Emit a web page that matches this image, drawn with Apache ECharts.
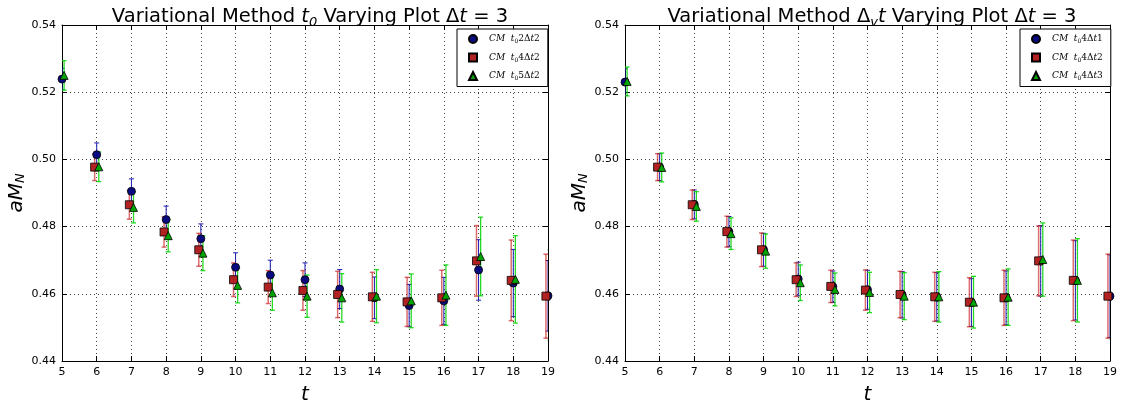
<!DOCTYPE html>
<html><head><meta charset="utf-8">
<script src="https://cdn.jsdelivr.net/npm/echarts@6/dist/echarts.min.js"></script>
<style>html,body{margin:0;padding:0;background:#fff}#c{width:1122px;height:410px}</style>
</head><body><div id="c"></div>
<script>
const tVals = [5,6,7,8,9,10,11,12,13,14,15,16,17,18,19];
const xTicks = {min:5, max:19, interval:1};
const yTicks = {min:0.44, max:0.54, interval:0.02};

// Left panel: t0 varying
const blueL    = [0.5239,0.5014,0.4905,0.4821,0.4764,0.4679,0.4656,0.4642,0.4614,0.4588,0.4565,0.4579,0.4671,0.4632,0.4594];
const blueLErr = [0.0032,0.0035,0.0037,0.0040,0.0044,0.0043,0.0044,0.0050,0.0058,0.0062,0.0063,0.0070,0.0090,0.0100,0.0105];
const redL     = [0.5235,0.4977,0.4865,0.4784,0.4731,0.4642,0.4620,0.4610,0.4598,0.4591,0.4576,0.4588,0.4698,0.4640,0.4593];
const redLErr  = [0.0050,0.0040,0.0043,0.0045,0.0049,0.0050,0.0049,0.0059,0.0069,0.0073,0.0073,0.0082,0.0105,0.0120,0.0125];
const greenL   = [0.5250,0.4978,0.4857,0.4773,0.4721,0.4625,0.4603,0.4593,0.4588,0.4593,0.4579,0.4596,0.4711,0.4643,0.4596];
const greenLErr= [0.0044,0.0044,0.0046,0.0048,0.0052,0.0052,0.0052,0.0063,0.0072,0.0079,0.0080,0.0090,0.0117,0.0130,0.0135];

// Right panel: Delta_v t varying
const blueR    = [0.5230,0.4977,0.4866,0.4785,0.4731,0.4644,0.4621,0.4612,0.4597,0.4591,0.4574,0.4588,0.4698,0.4640,0.4593];
const blueRErr = [0.0040,0.0040,0.0043,0.0045,0.0049,0.0050,0.0047,0.0058,0.0069,0.0072,0.0071,0.0080,0.0105,0.0118,0.0123];
const redR     = [0.5232,0.4977,0.4865,0.4785,0.4731,0.4642,0.4622,0.4611,0.4598,0.4591,0.4575,0.4588,0.4698,0.4640,0.4593];
const redRErr  = [0.0040,0.0040,0.0044,0.0046,0.0050,0.0050,0.0048,0.0060,0.0069,0.0073,0.0073,0.0082,0.0104,0.0120,0.0125];
const greenR   = [0.5232,0.4976,0.4860,0.4779,0.4727,0.4633,0.4613,0.4604,0.4593,0.4591,0.4575,0.4590,0.4702,0.4640,0.4593];
const greenRErr= [0.0043,0.0043,0.0044,0.0047,0.0051,0.0053,0.0049,0.0060,0.0070,0.0075,0.0077,0.0084,0.0109,0.0124,0.0128];

const offsets = {blue:0, red:-0.06, green:0.06};
const legendL = {L1:'{i|CM  t}{s|0}{r|2Δ}{i|t}{r|2}', L2:'{i|CM  t}{s|0}{r|4Δ}{i|t}{r|2}', L3:'{i|CM  t}{s|0}{r|5Δ}{i|t}{r|2}'};
const legendR = {R1:'{i|CM  t}{s|0}{r|4Δ}{i|t}{r|1}', R2:'{i|CM  t}{s|0}{r|4Δ}{i|t}{r|2}', R3:'{i|CM  t}{s|0}{r|4Δ}{i|t}{r|3}'};

const FONT = 'DejaVu Sans';
const chart = echarts.init(document.getElementById('c'));

function errRender(color, width){
  return function(params, api){
    const x = api.value(0), y = api.value(1), e = api.value(2);
    const top = api.coord([x, y+e]), bot = api.coord([x, y-e]);
    const hw = 2.5;
    const style = {stroke: color, lineWidth: width, fill: null};
    return {type:'group', children:[
      {type:'line', shape:{x1:top[0],y1:top[1],x2:bot[0],y2:bot[1]}, style},
      {type:'line', shape:{x1:top[0]-hw,y1:top[1],x2:top[0]+hw,y2:top[1]}, style},
      {type:'line', shape:{x1:bot[0]-hw,y1:bot[1],x2:bot[0]+hw,y2:bot[1]}, style}
    ]};
  };
}
function pts(vals, off){ return tVals.map((t,i)=>[t+off, vals[i]]); }
function errPts(vals, errs, off){ return tVals.map((t,i)=>[t+off, vals[i], errs[i]]); }

const styles = {
  blue: {marker:'#0a0a80', err:'#1a1ab0', w:1, symbol:'circle', size:8},
  red:  {marker:'#b22222', err:'rgba(200,30,30,0.65)', w:1.5, symbol:'rect', size:8},
  green:{marker:'#00a400', err:'rgba(0,210,0,0.85)', w:1.3, symbol:'triangle', size:8}
};

function mkSeries(name, key, vals, errs, xi, yi){
  const s = styles[key], off = offsets[key];
  return [
    {type:'custom', name:name+'_err', xAxisIndex:xi, yAxisIndex:yi, clip:true,
     renderItem: errRender(s.err, s.w), encode:{x:0, y:1}, data: errPts(vals, errs, off), silent:true},
    {type:'scatter', name:name, xAxisIndex:xi, yAxisIndex:yi, clip:true,
     symbol:s.symbol, symbolSize:s.size,
     itemStyle:{color:s.marker, borderColor:'#000', borderWidth:0.8, opacity:1},
     data: pts(vals, off), silent:true}
  ];
}

function xAxes(gi){
  return [
    {type:'value', gridIndex:gi, position:'bottom', min:xTicks.min, max:xTicks.max, interval:xTicks.interval,
     axisLine:{show:true, lineStyle:{color:'#000', width:1}},
     axisTick:{show:true, inside:true, length:5, lineStyle:{color:'#000'}},
     axisLabel:{color:'#000', fontFamily:FONT, fontSize:11, margin:6},
     splitLine:{show:true, lineStyle:{color:'#000', type:[1,3], width:1, opacity:0.75}},
     name:'t', nameLocation:'middle', nameGap:24,
     nameTextStyle:{fontFamily:FONT, fontStyle:'italic', fontSize:20, color:'#000'}},
    {type:'value', gridIndex:gi, position:'top', min:xTicks.min, max:xTicks.max, interval:xTicks.interval,
     axisLine:{show:true, lineStyle:{color:'#000', width:1}},
     axisTick:{show:true, inside:true, length:5, lineStyle:{color:'#000'}},
     axisLabel:{show:false}, splitLine:{show:false}}
  ];
}
function yAxes(gi, gap){
  return [
    {type:'value', gridIndex:gi, position:'left', min:yTicks.min, max:yTicks.max, interval:yTicks.interval,
     axisLine:{show:true, lineStyle:{color:'#000', width:1}},
     axisTick:{show:true, inside:true, length:5, lineStyle:{color:'#000'}},
     axisLabel:{color:'#000', fontFamily:FONT, fontSize:11, margin:6, formatter:v=>v.toFixed(2)},
     splitLine:{show:true, lineStyle:{color:'#000', type:[1,3], width:1, opacity:0.75}},
     name:'{m|aM}{s|N}', nameLocation:'middle', nameGap:gap, nameRotate:90,
     nameTextStyle:{rich:{
       m:{fontFamily:FONT, fontStyle:'italic', fontSize:20, color:'#000'},
       s:{fontFamily:FONT, fontStyle:'italic', fontSize:13, color:'#000', verticalAlign:'bottom', padding:[8,0,0,0]}}}},
    {type:'value', gridIndex:gi, position:'right', min:yTicks.min, max:yTicks.max, interval:yTicks.interval,
     axisLine:{show:true, lineStyle:{color:'#000', width:1}},
     axisTick:{show:true, inside:true, length:5, lineStyle:{color:'#000'}},
     axisLabel:{show:false}, splitLine:{show:false}}
  ];
}

const titleRich = {
  n:{fontFamily:FONT, fontWeight:'normal', fontSize:19.5, color:'#000'},
  m:{fontFamily:FONT, fontWeight:'normal', fontStyle:'italic', fontSize:19.5, color:'#000'},
  s:{fontFamily:FONT, fontWeight:'normal', fontStyle:'italic', fontSize:13, color:'#000', verticalAlign:'bottom', padding:[11,0,0,0]}
};
const legRich = {
  i:{fontFamily:'DejaVu Serif', fontStyle:'italic', fontSize:9, color:'#000'},
  r:{fontFamily:'DejaVu Serif', fontSize:9, color:'#000'},
  s:{fontFamily:'DejaVu Serif', fontSize:6, color:'#000', verticalAlign:'bottom', padding:[5,0,0,0]}
};
function legend(left, names, map){
  return {
    orient:'vertical', left:left, top:29, itemWidth:8, itemHeight:8, itemGap:8,
    padding:[5,8,5,11], backgroundColor:'#fff', borderColor:'#000', borderWidth:1, borderRadius:0,
    data: names.map((n,i)=>({name:n, icon:['circle','rect','triangle'][i]})),
    formatter: n=>map[n],
    textStyle:{rich:legRich, padding:[0,0,0,7]},
    selectedMode:false
  };
}

const option = {
  animation:false,
  backgroundColor:'#fff',
  title:[
    {left:305, top:0, textAlign:'center', text:'{n|Variational Method }{m|t}{s|0}{n| Varying Plot Δ}{m|t}{n| = 3}', textStyle:{fontWeight:'normal', rich:titleRich}},
    {left:867, top:0, textAlign:'center', text:'{n|Variational Method Δ}{s|v}{m|t}{n| Varying Plot Δ}{m|t}{n| = 3}', textStyle:{fontWeight:'normal', rich:titleRich}}
  ],
  grid:[
    {left:62, right:574, top:25, bottom:42, show:false},
    {left:625, right:12, top:25, bottom:42, show:false}
  ],
  xAxis:[...xAxes(0), ...xAxes(1)],
  yAxis:[...yAxes(0, 34), ...yAxes(1, 31)],
  legend:[ legend(457, ['L1','L2','L3'], legendL), legend(1020, ['R1','R2','R3'], legendR) ],
  series:[
    ...mkSeries('L1','blue', blueL, blueLErr, 0, 0),
    ...mkSeries('L2','red', redL, redLErr, 0, 0),
    ...mkSeries('L3','green', greenL, greenLErr, 0, 0),
    ...mkSeries('R1','blue', blueR, blueRErr, 2, 2),
    ...mkSeries('R2','red', redR, redRErr, 2, 2),
    ...mkSeries('R3','green', greenR, greenRErr, 2, 2)
  ]
};
chart.setOption(option);
</script></body></html>
